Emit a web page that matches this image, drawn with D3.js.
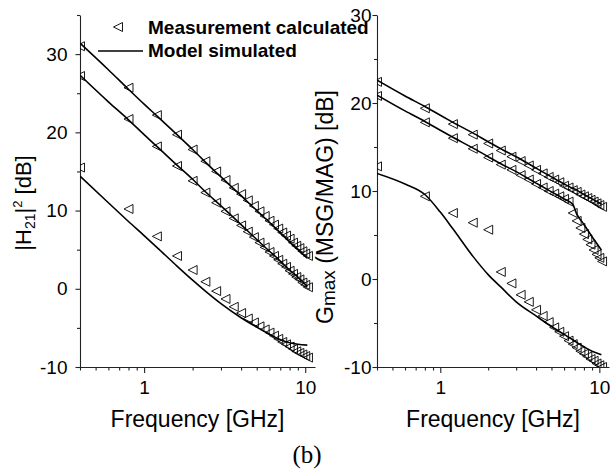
<!DOCTYPE html>
<html>
<head>
<meta charset="utf-8">
<script src="https://cdn.jsdelivr.net/npm/d3@7"></script>
<style>
  body { margin: 0; background: #fff; }
  text { font-family: 'Liberation Sans', Arial, sans-serif; fill: #000; }
</style>
</head>
<body>
<svg id="mainFrame" width="612" height="470"></svg>
<script>
// measured points (every 0.4 GHz)
const measFreq = [0.4, 0.8, 1.2, 1.6, 2.0, 2.4, 2.8, 3.2, 3.6, 4.0, 4.4, 4.8, 5.2, 5.6, 6.0, 6.4, 6.8, 7.2, 7.6, 8.0, 8.4, 8.8, 9.2, 9.6, 10.0, 10.4];
const h21MeasA = [31.0, 25.7, 22.2, 19.7, 17.8, 16.3, 15.0, 13.9, 12.9, 12.1, 11.3, 10.6, 9.9, 9.3, 8.7, 8.2, 7.7, 7.2, 6.8, 6.4, 5.9, 5.5, 5.2, 4.8, 4.5, 4.2];
const h21MeasB = [27.2, 21.7, 18.2, 15.7, 13.8, 12.3, 11.0, 9.9, 9.0, 8.1, 7.3, 6.6, 5.9, 5.3, 4.7, 4.2, 3.7, 3.2, 2.8, 2.3, 1.9, 1.5, 1.2, 0.8, 0.5, 0.2];
const h21MeasC = [15.5, 10.2, 6.7, 4.2, 2.4, 0.9, -0.3, -1.3, -2.3, -3.1, -3.8, -4.3, -4.8, -5.2, -5.6, -6.0, -6.4, -6.8, -7.1, -7.4, -7.7, -8.0, -8.2, -8.4, -8.6, -8.8];
const gmaxMeasA = [22.4, 19.4, 17.6, 16.4, 15.4, 14.6, 13.9, 13.4, 12.9, 12.4, 12.0, 11.6, 11.3, 11.0, 10.6, 10.4, 10.1, 9.9, 9.6, 9.4, 9.2, 9.0, 8.8, 8.6, 8.4, 8.2];
const gmaxMeasB = [20.8, 17.8, 16.0, 14.8, 13.8, 13.0, 12.4, 11.8, 11.3, 10.8, 10.4, 10.0, 9.7, 9.4, 9.1, 8.8, 7.5, 6.6, 5.8, 5.1, 4.5, 3.9, 3.3, 2.8, 2.4, 2.0];
const gmaxMeasC = [12.8, 9.4, 7.5, 6.4, 5.6, 0.8, -0.5, -1.8, -2.6, -3.5, -4.2, -4.9, -5.5, -6.0, -6.5, -7.0, -7.4, -7.8, -8.2, -8.5, -8.8, -9.1, -9.3, -9.6, -9.8, -10.0];

// model curves
const modelFreq = [0.4, 0.6, 0.8, 1.0, 1.2, 1.6, 2.0, 2.4, 3.0, 4.0, 5.0, 6.0, 6.8, 7.2, 8.0, 9.0, 10.3];
const h21ModelA = [31.4, 28.0, 25.5, 23.6, 22.1, 19.7, 17.8, 16.2, 14.3, 11.9, 10.0, 8.5, 7.4, 6.9, 6.0, 5.0, 3.9];
const h21ModelB = [27.3, 23.9, 21.6, 19.7, 18.2, 15.8, 14.0, 12.4, 10.6, 8.2, 6.3, 4.8, 3.8, 3.3, 2.4, 1.5, 0.3];
const h21ModelC = [14.4, 11.0, 8.6, 6.8, 5.3, 2.9, 1.1, -0.3, -1.9, -3.7, -4.9, -5.8, -6.4, -6.6, -6.9, -7.1, -7.2];
const gmaxModelA = [22.6, 20.8, 19.6, 18.6, 17.8, 16.6, 15.6, 14.8, 13.9, 12.6, 11.6, 10.8, 10.3, 10.1, 9.6, 9.1, 8.5];
const gmaxModelB = [20.9, 19.1, 17.9, 16.9, 16.1, 14.9, 13.9, 13.1, 12.2, 10.9, 9.9, 9.1, 8.5, 7.4, 6.2, 4.8, 3.3];
const gmaxModelC = [12.0, 10.8, 9.6, 7.6, 5.7, 2.6, 0.5, -0.9, -2.6, -4.2, -5.4, -6.3, -6.9, -7.2, -7.7, -8.2, -8.6];

// ticks
const xMajorTicks = [1, 10];
const xMinorTicks = [0.4, 0.5, 0.6, 0.7, 0.8, 0.9, 2, 3, 4, 5, 6, 7, 8, 9];
const yMajorTicks = [-10, 0, 10, 20, 30];
const yMinorTicksLeft = [-5, 5, 15, 25, 35];
const yMinorTicksRight = [-5, 5, 15, 25];

const svg = d3.select('#mainFrame');

const plotTop = 15, plotBottom = 367;
const triangle = 'M-4.5,0L4.5,-4.5L4.5,4.5Z';
const plainNumber = d => String(d);   // keeps a hyphen for negatives, like the original

const drawPanel = (p) => {
    const xScale = d3.scaleLog().domain([0.4, 11.5]).range([p.x0, p.x1]);
    const yScale = d3.scaleLinear().domain(p.yDomain).range([plotBottom, plotTop]);

    const g = svg.append('g');

    g.append('clipPath').attr('id', p.id + '-clip')
      .append('rect')
        .attr('x', p.x0).attr('y', plotTop)
        .attr('width', p.x1 - p.x0 + 4).attr('height', plotBottom - plotTop);

    // x axis
    const xAxis = d3.axisBottom(xScale)
        .tickValues(xMajorTicks)
        .tickFormat(plainNumber)
        .tickSize(6).tickSizeOuter(0)
        .tickPadding(8);
    g.append('g')
        .attr('transform', `translate(0,${plotBottom})`)
        .call(xAxis);
    g.append('g')
        .attr('transform', `translate(0,${plotBottom})`)
        .call(d3.axisBottom(xScale).tickValues(xMinorTicks).tickFormat('').tickSize(3.5).tickSizeOuter(0))
        .select('.domain').remove();

    // y axis
    const yAxis = d3.axisLeft(yScale)
        .tickValues(yMajorTicks)
        .tickFormat(plainNumber)
        .tickSize(4.5).tickSizeOuter(0)
        .tickPadding(p.yPad);
    g.append('g')
        .attr('transform', `translate(${p.x0},0)`)
        .call(yAxis);
    g.append('g')
        .attr('transform', `translate(${p.x0},0)`)
        .call(d3.axisLeft(yScale).tickValues(p.yMinor).tickFormat('').tickSize(3).tickSizeOuter(0))
        .select('.domain').remove();

    g.selectAll('.tick text')
        .style('font-family', "'Liberation Sans', Arial, sans-serif")
        .style('font-size', '19px');
    g.selectAll('.domain, .tick line').attr('stroke', '#222').attr('stroke-width', 1.1);

    // x title
    g.append('text')
        .attr('x', (p.x0 + p.x1) / 2)
        .attr('y', 427)
        .attr('text-anchor', 'middle')
        .style('font-size', '23px')
        .text('Frequency [GHz]');

    const plot = g.append('g').attr('clip-path', `url(#${p.id}-clip)`);

    const line = d3.line()
        .x((d, i) => xScale(modelFreq[i]))
        .y(d => yScale(d))
        .curve(d3.curveMonotoneX);

    p.models.forEach(m => {
        plot.append('path')
            .attr('d', line(m))
            .attr('fill', 'none')
            .attr('stroke', '#000')
            .attr('stroke-width', 1.6);
    });

    p.meas.forEach(m => {
        plot.selectAll(null).data(m)
          .enter().append('path')
            .attr('d', triangle)
            .attr('transform', (d, i) => `translate(${xScale(measFreq[i])},${yScale(d)})`)
            .attr('fill', 'none')
            .attr('stroke', '#000')
            .attr('stroke-width', 0.9);
    });

    return g;
};

drawPanel({
    id: 'h21', x0: 80, x1: 315, yDomain: [-10, 35], yPad: 8, yMinor: yMinorTicksLeft,
    models: [h21ModelA, h21ModelB, h21ModelC],
    meas: [h21MeasA, h21MeasB, h21MeasC]
});

drawPanel({
    id: 'gmax', x0: 377, x1: 609, yDomain: [-10, 30], yPad: 1, yMinor: yMinorTicksRight,
    models: [gmaxModelA, gmaxModelB, gmaxModelC],
    meas: [gmaxMeasA, gmaxMeasB, gmaxMeasC]
});

// y titles
const leftTitle = svg.append('text')
    .attr('transform', 'translate(31,203) rotate(-90)')
    .attr('text-anchor', 'middle')
    .style('font-size', '22px');
leftTitle.append('tspan').text('|H');
leftTitle.append('tspan').attr('dy', 4).style('font-size', '14px').text('21');
leftTitle.append('tspan').attr('dy', -4).text('|');
leftTitle.append('tspan').attr('dy', -9).style('font-size', '13px').text('2');
leftTitle.append('tspan').attr('dy', 9).text(' [dB]');

const rightTitle = svg.append('text')
    .attr('transform', 'translate(333,207) rotate(-90)')
    .attr('text-anchor', 'middle')
    .style('font-size', '23px');
rightTitle.append('tspan').text('G');
rightTitle.append('tspan').attr('dy', 2).style('font-size', '19px').text('max');
rightTitle.append('tspan').attr('dy', -2).text(' (MSG/MAG) [dB]');

// legend
const legend = svg.append('g');
legend.append('path')
    .attr('d', triangle)
    .attr('transform', 'translate(118,27)')
    .attr('fill', 'none')
    .attr('stroke', '#000')
    .attr('stroke-width', 0.9);
legend.append('line')
    .attr('x1', 98).attr('x2', 143)
    .attr('y1', 51).attr('y2', 51)
    .attr('stroke', '#000')
    .attr('stroke-width', 1.6);
legend.append('text')
    .attr('x', 148).attr('y', 33.5)
    .style('font-size', '19px').style('font-weight', 'bold')
    .text('Measurement calculated');
legend.append('text')
    .attr('x', 148).attr('y', 56.5)
    .style('font-size', '19px').style('font-weight', 'bold')
    .text('Model simulated');

// caption
svg.append('text')
    .attr('x', 307).attr('y', 463)
    .attr('text-anchor', 'middle')
    .style('font-family', "'Liberation Serif', 'Times New Roman', serif")
    .style('font-size', '25px')
    .text('(b)');
</script>
</body>
</html>
